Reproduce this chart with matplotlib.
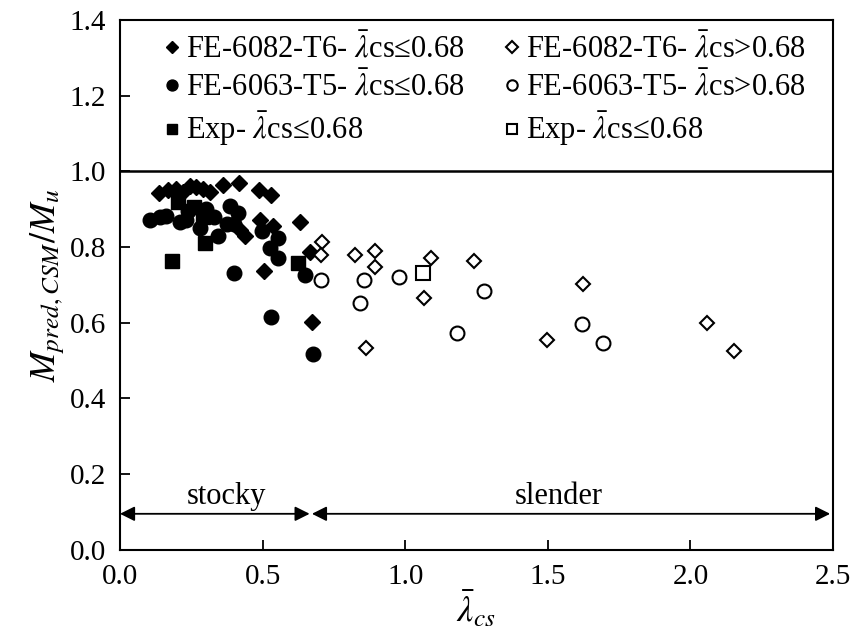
import matplotlib
matplotlib.use("Agg")
import matplotlib.pyplot as plt
import numpy as np

plt.rcParams['font.family'] = ['Liberation Serif', 'DejaVu Serif']
plt.rcParams['mathtext.fontset'] = 'stix'

# FE-6082-T6, lambda <= 0.68 (filled diamonds)
d6082_s_x = [0.138, 0.168, 0.196, 0.222, 0.245, 0.265, 0.292, 0.316, 0.362, 0.418,
             0.489, 0.528, 0.631, 0.491, 0.538, 0.438, 0.505, 0.666, 0.672, 0.300, 0.420]
d6082_s_y = [0.942, 0.950, 0.952, 0.945, 0.961, 0.958, 0.954, 0.945, 0.964, 0.970,
             0.950, 0.936, 0.867, 0.872, 0.856, 0.829, 0.736, 0.786, 0.601, 0.880, 0.845]
# FE-6082-T6, lambda > 0.68 (open diamonds)
d6082_l_x = [0.707, 0.704, 0.824, 0.894, 0.894, 1.089, 1.241, 1.067, 0.863, 1.498, 1.622, 2.057, 2.153]
d6082_l_y = [0.814, 0.779, 0.779, 0.788, 0.746, 0.770, 0.764, 0.665, 0.533, 0.553, 0.702, 0.599, 0.526]
# FE-6063-T5, lambda <= 0.68 (filled circles)
d6063_s_x = [0.105, 0.140, 0.160, 0.210, 0.230, 0.240, 0.281, 0.300, 0.330, 0.345, 0.386,
             0.415, 0.375, 0.400, 0.497, 0.555, 0.526, 0.555, 0.400, 0.649, 0.528, 0.678]
d6063_s_y = [0.872, 0.878, 0.882, 0.867, 0.870, 0.895, 0.850, 0.900, 0.880, 0.828, 0.907,
             0.889, 0.860, 0.860, 0.841, 0.823, 0.797, 0.770, 0.731, 0.726, 0.615, 0.518]
# FE-6063-T5, lambda > 0.68 (open circles)
d6063_l_x = [0.704, 0.857, 0.978, 0.840, 1.277, 1.181, 1.619, 1.695]
d6063_l_y = [0.713, 0.713, 0.720, 0.653, 0.684, 0.572, 0.597, 0.546]
# Experimental
exp_s_x = [0.205, 0.260, 0.181, 0.298, 0.625, 0.290]
exp_s_y = [0.918, 0.905, 0.762, 0.810, 0.757, 0.880]
exp_l_x = [1.064]
exp_l_y = [0.731]

labels = [r"FE-6082-T6- $\bar{\lambda}$cs≤0.68",
          r"FE-6063-T5- $\bar{\lambda}$cs≤0.68",
          r"Exp- $\bar{\lambda}$cs≤0.68",
          r"FE-6082-T6- $\bar{\lambda}$cs>0.68",
          r"FE-6063-T5- $\bar{\lambda}$cs>0.68",
          r"Exp- $\bar{\lambda}$cs≤0.68"]

fig = plt.figure(figsize=(8.57, 6.4), dpi=100)
ax = fig.add_axes([0.14, 0.141, 0.832, 0.828])

ax.plot(d6082_s_x, d6082_s_y, 'D', color='black', ms=8, ls='none', label=labels[0])
ax.plot(d6063_s_x, d6063_s_y, 'o', color='black', ms=10.5, ls='none', label=labels[1])
ax.plot(exp_s_x, exp_s_y, 's', color='black', ms=10.5, ls='none', label=labels[2])
ax.plot(d6082_l_x, d6082_l_y, 'D', mfc='white', mec='black', mew=1.5, ms=7.5, ls='none', label=labels[3])
ax.plot(d6063_l_x, d6063_l_y, 'o', mfc='white', mec='black', mew=1.5, ms=10, ls='none', label=labels[4])
ax.plot(exp_l_x, exp_l_y, 's', mfc='white', mec='black', mew=1.5, ms=10, ls='none', label=labels[5])

ax.axhline(1.0, color='black', lw=1.8)

ax.set_xlim(0, 2.5)
ax.set_ylim(0, 1.4)
ax.set_xticks(np.arange(0, 2.51, 0.5))
ax.set_yticks(np.arange(0, 1.41, 0.2))
ax.set_xticklabels([f"{v:.1f}" for v in np.arange(0, 2.51, 0.5)])
ax.set_yticklabels([f"{v:.1f}" for v in np.arange(0, 1.41, 0.2)])
ax.tick_params(direction='in', length=7, width=1.3, labelsize=21, pad=10)
for s in ax.spines.values():
    s.set_linewidth(1.5)

ax.set_xlabel(r"$\bar{\lambda}_{cs}$", fontsize=26, labelpad=0)
ax.set_ylabel(r"$M_{pred,CSM}/M_u$", fontsize=26, labelpad=2)

# stocky / slender arrows
arr_y = 0.095
ax.annotate('', xy=(0.0, arr_y), xytext=(0.665, arr_y),
            arrowprops=dict(arrowstyle='<|-|>', color='black', lw=1.3, mutation_scale=22, shrinkA=0, shrinkB=0))
ax.annotate('', xy=(0.673, arr_y), xytext=(2.49, arr_y),
            arrowprops=dict(arrowstyle='<|-|>', color='black', lw=1.3, mutation_scale=22, shrinkA=0, shrinkB=0))
ax.text(0.373, arr_y + 0.008, 'stocky', ha='center', va='bottom', fontsize=22)
ax.text(1.54, arr_y + 0.008, 'slender', ha='center', va='bottom', fontsize=22)

ax.legend(ncol=2, loc='upper left', bbox_to_anchor=(0.035, 1.01), frameon=False,
          fontsize=22, markerscale=0.75, handlelength=0.6, handletextpad=0.15,
          columnspacing=1.23, labelspacing=0.22, borderaxespad=0.2)

fig.savefig('out.png', dpi=100)
